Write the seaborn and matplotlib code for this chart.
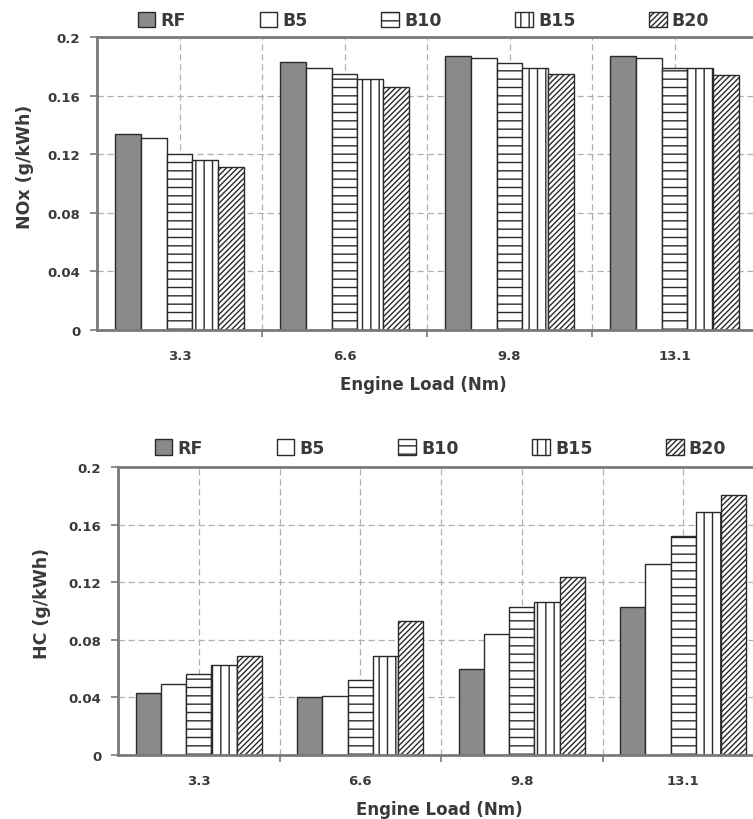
import matplotlib
matplotlib.use("Agg")
import matplotlib.pyplot as plt
import seaborn as sns
import pandas as pd
from matplotlib.patches import Patch
from matplotlib.ticker import FixedLocator

# ---------------- data ----------------
loads = ["3.3", "6.6", "9.8", "13.1"]
fuels = ["RF", "B5", "B10", "B15", "B20"]

nox_rf = [0.134, 0.183, 0.187, 0.187]
nox_b5 = [0.131, 0.179, 0.1855, 0.1855]
nox_b10 = [0.120, 0.175, 0.182, 0.179]
nox_b15 = [0.116, 0.171, 0.179, 0.179]
nox_b20 = [0.111, 0.166, 0.175, 0.174]

hc_rf = [0.043, 0.040, 0.060, 0.1025]
hc_b5 = [0.049, 0.041, 0.084, 0.1325]
hc_b10 = [0.056, 0.052, 0.1025, 0.152]
hc_b15 = [0.0625, 0.069, 0.1065, 0.1685]
hc_b20 = [0.069, 0.093, 0.1235, 0.1805]

y_ticks = [0, 0.04, 0.08, 0.12, 0.16, 0.2]
y_tick_labels = ["0", "0.04", "0.08", "0.12", "0.16", "0.2"]


def long_df(series):
    rows = []
    for fuel, vals in zip(fuels, series):
        for load, v in zip(loads, vals):
            rows.append({"load": load, "fuel": fuel, "value": v})
    return pd.DataFrame(rows)


nox_df = long_df([nox_rf, nox_b5, nox_b10, nox_b15, nox_b20])
hc_df = long_df([hc_rf, hc_b5, hc_b10, hc_b15, hc_b20])

# ---------------- style ----------------
sns.set_theme(style="white")
plt.rcParams["font.family"] = ["DejaVu Sans"]
plt.rcParams["font.weight"] = "bold"
plt.rcParams["hatch.linewidth"] = 1.0

TXT = "#3a3a3a"
SPINE = "#7a7a7a"
GRID = "#b0b0b0"
EDGE = "#2a2a2a"

face = {"RF": "#8a8a8a", "B5": "white", "B10": "white", "B15": "white", "B20": "white"}
hatch = {"RF": None, "B5": None, "B10": "--", "B15": "||", "B20": "//////"}

fig = plt.figure(figsize=(7.53, 8.2), dpi=100)
ax1 = fig.add_axes([97 / 753, (820 - 331) / 820, (757 - 97) / 753, 293 / 820])
ax2 = fig.add_axes([118 / 753, (820 - 756) / 820, (764 - 118) / 753, 288 / 820])


def draw(ax, df, ylabel, ylab_xy, xlab_xy, legend_anchor):
    sns.barplot(data=df, x="load", y="value", hue="fuel", order=loads,
                hue_order=fuels, width=0.78, gap=0, legend=False,
                palette=["white"] * 5, edgecolor=EDGE, linewidth=1.0,
                errorbar=None, ax=ax)
    for fuel, cont in zip(fuels, ax.containers):
        for bar in cont:
            bar.set_facecolor(face[fuel])
            bar.set_edgecolor(EDGE)
            if hatch[fuel]:
                bar.set_hatch(hatch[fuel])
    ax.set_xlim(-0.5, 3.5)
    ax.set_ylim(0, 0.2)
    ax.set_yticks(y_ticks)
    ax.set_yticklabels(y_tick_labels)
    ax.xaxis.set_minor_locator(FixedLocator([0.5, 1.5, 2.5]))
    ax.set_axisbelow(True)
    ax.grid(True, axis="y", which="major", ls=(0, (5, 3)), color=GRID, lw=0.9)
    ax.grid(True, axis="x", which="both", ls=(0, (5, 3)), color=GRID, lw=0.9)
    ax.tick_params(axis="y", which="major", direction="out", length=5, width=1.2,
                   color=SPINE, labelsize=9.5, labelcolor=TXT, pad=7, left=True)
    ax.tick_params(axis="x", which="major", length=0, labelsize=9.5,
                   labelcolor=TXT, pad=14, bottom=True)
    ax.tick_params(axis="x", which="minor", direction="out", length=5, width=1.2,
                   color=SPINE, bottom=True)
    for lab in ax.get_xticklabels() + ax.get_yticklabels():
        lab.set_fontweight("bold")
    for side in ["left", "top", "bottom", "right"]:
        ax.spines[side].set_color(SPINE)
        ax.spines[side].set_linewidth(2.0)
        ax.spines[side].set_visible(True)
    ax.set_ylabel(ylabel, fontsize=12.5, fontweight="bold", color=TXT, va="center")
    ax.yaxis.set_label_coords(*ylab_xy)
    ax.set_xlabel("Engine Load (Nm)", fontsize=12, fontweight="bold", color=TXT, va="center")
    ax.xaxis.set_label_coords(*xlab_xy)

    handles = [Patch(facecolor=face[f], edgecolor=EDGE, hatch=hatch[f], lw=1.0,
                     label=f) for f in fuels]
    fig.legend(handles=handles, loc="center left", bbox_to_anchor=legend_anchor,
               ncol=5, frameon=False, borderpad=0, borderaxespad=0,
               handlelength=1.0, handleheight=1.0, handletextpad=0.3,
               columnspacing=4.25,
               prop={"size": 12.5, "weight": "bold"}, labelcolor=TXT)


draw(ax1, nox_df, "NOx (g/kWh)", (-0.109, 0.56), (0.494, -0.184),
     (138 / 753, 1 - 21.5 / 820))
draw(ax2, hc_df, "HC (g/kWh)", (-0.118, 0.531), (0.497, -0.1875),
     (155 / 753, 1 - 449 / 820))

fig.savefig("out.png", dpi=100)
